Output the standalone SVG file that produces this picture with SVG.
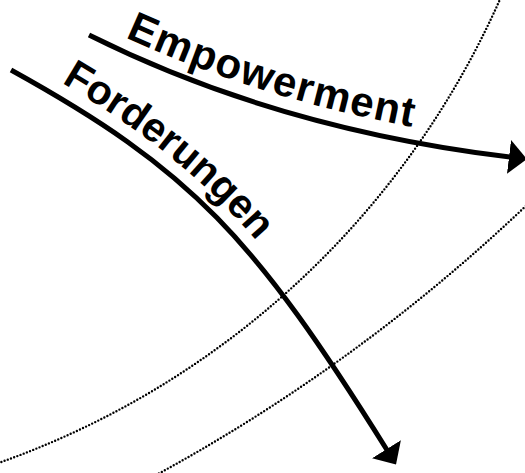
<svg xmlns="http://www.w3.org/2000/svg" width="525" height="473" viewBox="0 0 525 473">
<style>
.ring{fill:none;stroke:#000;stroke-width:2.4;stroke-linecap:round;stroke-dasharray:0 3.4}
.arrow{fill:none;stroke:#000;stroke-width:5;marker-end:url(#ah)}
.lbl{font-family:"Liberation Sans",Arial,sans-serif;font-weight:bold;font-size:41px;fill:#000}
</style>
<defs>
<marker id="ah" markerUnits="userSpaceOnUse" markerWidth="18" markerHeight="34" viewBox="0 0 18 34" refX="1" refY="17" orient="auto">
<path d="M0,0 L18,17 L0,34 z" fill="#000"/>
</marker>
<path id="p-emp" d="M89,20 Q277,114 510,142"/>
<path id="p-ford" d="M17.8,57.7 C198.8,157.7 265.9,230.1 398.9,442.6"/>
</defs>
<g id="rings">
<path class="ring" d="M-5,464.2 A862,862 0 0 0 501.9,-5"/>
<path class="ring" d="M146.9,480 A1753,1753 0 0 0 535,197.2"/>
</g>
<g id="connectors">
<path id="arrow-empowerment" class="arrow" d="M89,35 Q277,129 510,157"/>
<path id="arrow-forderungen" class="arrow" d="M11,70 C192,170 254,237.5 387,450"/>
</g>
<g id="label-empowerment">
<text class="lbl" style="font-size:42px;letter-spacing:1.2px"><textPath href="#p-emp" startOffset="40">Empowerment</textPath></text>
</g>
<g id="label-forderungen">
<text class="lbl"><textPath href="#p-ford" startOffset="50">Forderungen</textPath></text>
</g>
</svg>
